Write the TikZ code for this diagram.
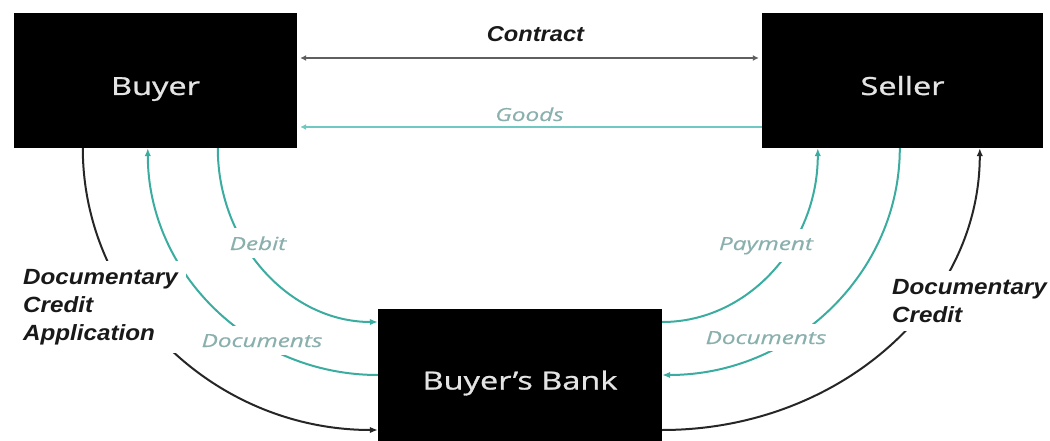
\documentclass[tikz,border=0pt]{standalone}
\usepackage{fontspec}
\usepackage{xcolor}
\usetikzlibrary{arrows.meta}

\newfontfamily\boxfont{Open Sans}[FakeStretch=1.3, FakeBold=1]
\newfontfamily\flowfont{Open Sans}[FakeStretch=1.35, FakeBold=0.4]
\newfontfamily\notefont{Liberation Sans}[FakeStretch=1.1]

\definecolor{flowteal}{RGB}{58,172,160}
\definecolor{goodsteal}{RGB}{112,200,194}
\definecolor{flowtext}{RGB}{138,176,174}
\definecolor{contractgray}{RGB}{95,95,95}
\definecolor{boxtext}{RGB}{228,228,228}

\tikzset{
  party/.style={fill=black, inner sep=0pt, minimum width=283pt, minimum height=135pt,
    text=boxtext, font=\boxfont\fontsize{25}{30}\selectfont, text height=41pt, text depth=12pt},
  flow/.style={draw=flowteal, line width=2pt, -{Latex[length=8pt,width=6.5pt]}},
  credit/.style={draw=black!85, line width=2pt, -{Latex[length=8pt,width=6.5pt]}},
  flowlabel/.style={fill=white, inner xsep=4pt, inner ysep=8pt, text=flowtext,
    font=\flowfont\itshape\fontsize{18}{22}\selectfont},
  notelabel/.style={fill=white, inner sep=8pt, align=left, text=black!90,
    font=\notefont\bfseries\itshape\fontsize{22}{28}\selectfont},
}

\begin{document}
\begin{tikzpicture}[x=1pt, y=-1pt]
\useasboundingbox (0,0) rectangle (1050,441);

% draw the three parties
\node[party] (buyer) at (155.5,80.5) {Buyer};
\node[party, minimum width=281pt] (seller) at (902.5,80.5) {Seller};
\node[party, minimum width=284pt, minimum height=132pt] (bank) at (520,375) {Buyer’s Bank};

% draw contract and goods
\draw[contractgray, line width=2.5pt, {Latex[length=6pt,width=6pt]}-{Latex[length=6pt,width=6pt]},
      shorten <=3pt, shorten >=3pt] ([yshift=22.5pt]buyer.east) -- ([yshift=22.5pt]seller.west)
      node[midway, notelabel, fill=none, anchor=base, yshift=16pt, xshift=6pt,
           font=\notefont\bfseries\itshape\fontsize{21.5}{26}\selectfont] (contractlbl) {Contract};
\draw[goodsteal, line width=2.5pt, -{Latex[length=6pt,width=6pt]}, shorten >=3pt]
      ([yshift=-46.5pt]seller.west) -- ([yshift=-46.5pt]buyer.east)
      node[midway, flowlabel, fill=none, anchor=base, yshift=6pt] (goodslbl) {Goods};

% draw buyer side curves
\draw[credit] ([xshift=69pt]buyer.south west) .. controls +(0,155) and +(-163,0) .. ([yshift=-55pt]bank.west);
\draw[flow] (bank.west) .. controls +(-127,0) and +(0,125) .. ([xshift=134pt]buyer.south west);
\draw[flow] ([xshift=204pt]buyer.south west) .. controls +(0,96) and +(-88,0) .. ([yshift=53pt]bank.west);

% draw seller side curves
\draw[flow] ([yshift=53pt]bank.east) .. controls +(86,0) and +(0,96) .. ([xshift=56pt]seller.south west);
\draw[flow] ([xshift=138pt]seller.south west) .. controls +(0,125) and +(131,0) .. (bank.east);
\draw[credit] ([yshift=-55pt]bank.east) .. controls +(176,0) and +(0,156) .. ([xshift=218pt]seller.south west);

% draw labels
\node[flowlabel, anchor=base] (debitlbl) at (258,250) {Debit};
\node[flowlabel, anchor=base] (docsleft) at (262,347) {Documents};
\node[flowlabel, anchor=base] (paylbl) at (766,250) {Payment};
\node[flowlabel, anchor=base, inner ysep=7pt] (docsright) at (766,344) {Documents};
\node[notelabel, anchor=north west] (applylbl) at (15,261) {Documentary\\Credit\\Application};
\node[notelabel, anchor=north west] (creditlbl) at (884,271) {Documentary\\Credit};

\end{tikzpicture}
\end{document}
